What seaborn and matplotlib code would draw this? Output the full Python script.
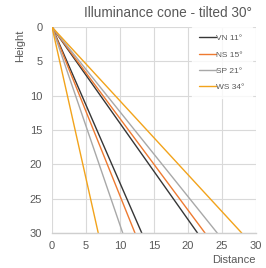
import matplotlib
matplotlib.use("Agg")
import matplotlib.pyplot as plt
import seaborn as sns
import pandas as pd

# ---- data ----
beams = ["VN 11°", "NS 15°", "SP 21°", "WS 34°"]
inner_at_30 = [13.2, 12.2, 10.4, 6.8]     # distance of inner cone edge at height 30
outer_at_30 = [21.4, 22.5, 24.3, 27.9]    # distance of outer cone edge at height 30
max_height = 30
x_ticks = [0, 5, 10, 15, 20, 25, 30]
y_ticks = [0, 5, 10, 15, 20, 25, 30]
colors = ["#363636", "#EE7A30", "#A8A8A8", "#F2A31B"]

rows = []
for b, xi, xo in zip(beams, inner_at_30, outer_at_30):
    for edge, xe in (("inner", xi), ("outer", xo)):
        rows.append({"beam": b, "edge": f"{b}-{edge}", "Distance": 0.0, "Height": 0.0})
        rows.append({"beam": b, "edge": f"{b}-{edge}", "Distance": xe, "Height": max_height})
df = pd.DataFrame(rows)

sns.set_theme(style="white")
plt.rcParams["font.family"] = ["Liberation Sans", "DejaVu Sans"]

fig = plt.figure(figsize=(2.66, 2.68), dpi=100)
ax = fig.add_axes([0.1955, 0.1306, 0.7669, 0.7684])

sns.lineplot(data=df, x="Distance", y="Height", hue="beam", units="edge",
             estimator=None, sort=False, palette=colors, hue_order=beams,
             linewidth=1.0, ax=ax)

ax.set_xlim(0, 30)
ax.set_ylim(30, 0)
ax.set_xticks(x_ticks)
ax.set_yticks(y_ticks)
ax.grid(True, color="#d9d9d9", linewidth=0.8)
ax.set_axisbelow(True)
for s in ("top", "right", "left"):
    ax.spines[s].set_visible(False)
ax.spines["bottom"].set_color("#cfcfcf")
ax.spines["bottom"].set_linewidth(1.0)
ax.tick_params(axis="both", length=0, labelsize=8, colors="#595959")
ax.tick_params(axis="y", pad=7)
ax.tick_params(axis="x", pad=6)

ax.set_title("Illuminance cone - tilted 30°", loc="right", x=0.98, fontsize=9.8,
             color="#595959", pad=7)
ax.set_xlabel("Distance", loc="right", fontsize=8, color="#595959", labelpad=3)
ax.set_ylabel("Height", fontsize=8, color="#595959")
ax.yaxis.set_label_coords(-0.13, 0.91)

leg = ax.legend(loc="upper left", bbox_to_anchor=(0.684, 1.0), fontsize=6,
                frameon=True, handlelength=2.0, handletextpad=0.0,
                labelspacing=1.0, borderpad=0.9, fancybox=False,
                borderaxespad=0.0)
leg.get_frame().set_facecolor("white")
leg.get_frame().set_edgecolor("white")
for t in leg.get_texts():
    t.set_color("#595959")

fig.savefig("out.png", dpi=100)
